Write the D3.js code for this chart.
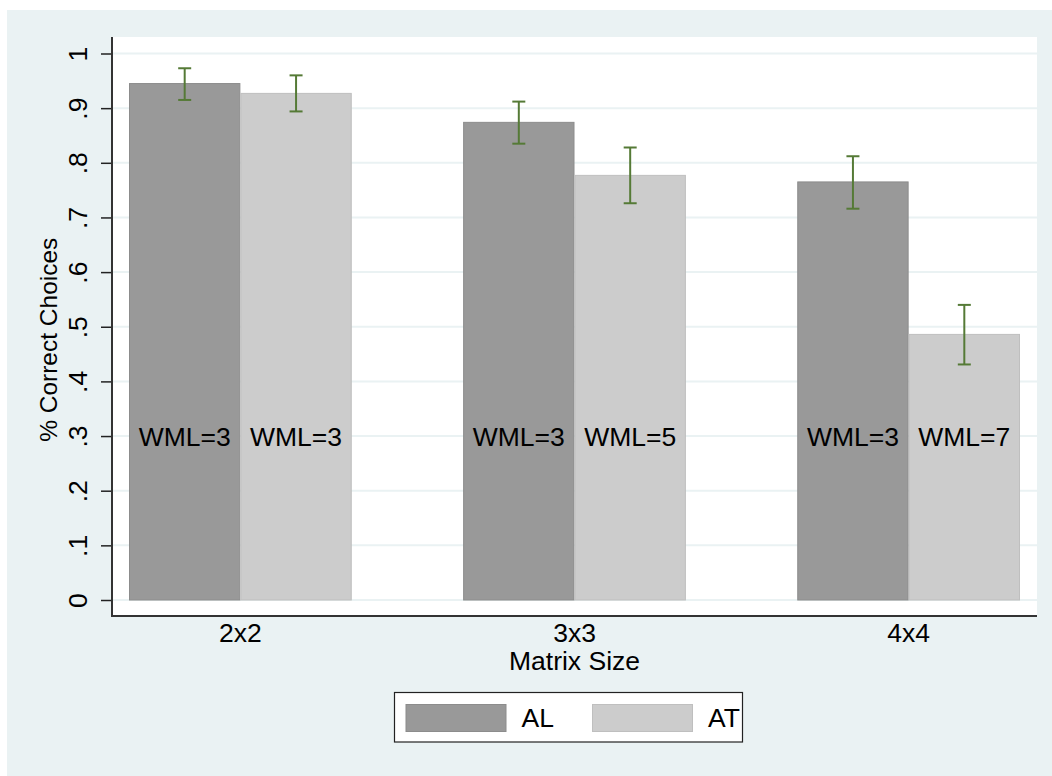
<!DOCTYPE html>
<html><head><meta charset="utf-8">
<script src="https://cdn.jsdelivr.net/npm/d3@7"></script>
<style>body{margin:0;background:#fff}svg{display:block}text{font-family:"Liberation Sans",Arial,Helvetica,sans-serif;fill:#000}</style>
</head><body>
<script>
const categories = ["2x2", "3x3", "4x4"];
const series = ["AL", "AT"];
const alValues = [0.945, 0.874, 0.765];
const atValues = [0.927, 0.777, 0.486];
const alLow = [0.915, 0.835, 0.716];
const alHigh = [0.973, 0.912, 0.812];
const atLow = [0.894, 0.726, 0.431];
const atHigh = [0.960, 0.828, 0.540];
const alLabels = ["WML=3", "WML=3", "WML=3"];
const atLabels = ["WML=3", "WML=5", "WML=7"];
const yTicks = [0, 0.1, 0.2, 0.3, 0.4, 0.5, 0.6, 0.7, 0.8, 0.9, 1];
const yTickLabels = ["0", ".1", ".2", ".3", ".4", ".5", ".6", ".7", ".8", ".9", "1"];

const W = 1052, H = 776;
const svg = d3.select("body").append("svg").attr("width", W).attr("height", H);
const colors = {AL: "#999999", AT: "#cccccc"};
const strokes = {AL: "#8c8c8c", AT: "#bfbfbf"};
const errColor = "#557a36";

// background
svg.append("rect").attr("x", 7).attr("y", 10).attr("width", W - 7).attr("height", H - 10).attr("fill", "#eaf2f3");
const plot = {left: 112, right: 1037, top: 37, bottom: 616};
svg.append("rect").attr("x", plot.left).attr("y", plot.top).attr("width", plot.right - plot.left).attr("height", plot.bottom - plot.top).attr("fill", "#fff");

const y = d3.scaleLinear().domain([0, 1]).range([600, 53.5]);
const x0 = d3.scaleBand().domain(categories).range([129, 1020]).paddingInner(1/3).paddingOuter(0);
const x1 = d3.scaleBand().domain(series).range([0, x0.bandwidth()]).padding(0);

// gridlines
svg.append("g").selectAll("line").data(yTicks).join("line")
  .attr("x1", plot.left).attr("x2", plot.right)
  .attr("y1", d => y(d)).attr("y2", d => y(d))
  .attr("stroke", "#eaf2f3").attr("stroke-width", 2);

const rows = categories.map((c, i) => ({
  c,
  items: [
    {s: "AL", v: alValues[i], lo: alLow[i], hi: alHigh[i], lab: alLabels[i]},
    {s: "AT", v: atValues[i], lo: atLow[i], hi: atHigh[i], lab: atLabels[i]}
  ]
}));

const g = svg.append("g").selectAll("g").data(rows).join("g")
  .attr("transform", d => `translate(${x0(d.c)},0)`);

g.selectAll("rect").data(d => d.items).join("rect")
  .attr("x", d => x1(d.s) + 0.5).attr("width", x1.bandwidth() - 1)
  .attr("y", d => y(d.v)).attr("height", d => y(0) - y(d.v))
  .attr("fill", d => colors[d.s]).attr("stroke", d => strokes[d.s]).attr("stroke-width", 1);

// labels
g.selectAll("text.wml").data(d => d.items).join("text").attr("class", "wml")
  .attr("x", d => x1(d.s) + x1.bandwidth() / 2).attr("y", y(0.3) + 10)
  .attr("text-anchor", "middle").attr("font-size", 26.5).text(d => d.lab);

// error bars
const eb = g.selectAll("g.eb").data(d => d.items).join("g").attr("class", "eb")
  .attr("stroke", errColor).attr("stroke-width", 2);
eb.append("line").attr("x1", d => x1(d.s) + x1.bandwidth() / 2).attr("x2", d => x1(d.s) + x1.bandwidth() / 2)
  .attr("y1", d => y(d.hi)).attr("y2", d => y(d.lo));
eb.append("line").attr("x1", d => x1(d.s) + x1.bandwidth() / 2 - 6.5).attr("x2", d => x1(d.s) + x1.bandwidth() / 2 + 6.5)
  .attr("y1", d => y(d.hi)).attr("y2", d => y(d.hi));
eb.append("line").attr("x1", d => x1(d.s) + x1.bandwidth() / 2 - 6.5).attr("x2", d => x1(d.s) + x1.bandwidth() / 2 + 6.5)
  .attr("y1", d => y(d.lo)).attr("y2", d => y(d.lo));

// y axis
const yAxis = d3.axisLeft(y).tickValues(yTicks).tickFormat((d, i) => yTickLabels[i]).tickSize(11).tickPadding(0);
const ya = svg.append("g").attr("transform", `translate(${plot.left},0)`).call(yAxis);
ya.select(".domain").remove();
ya.selectAll(".tick line").attr("stroke", "#222").attr("stroke-width", 1.5);
ya.selectAll(".tick text").attr("font-size", 26.5).attr("fill", "#000")
  .attr("text-anchor", "middle").attr("transform", "rotate(-90)")
  .attr("x", 0).attr("y", -25).attr("dy", 0);
svg.append("line").attr("x1", plot.left).attr("x2", plot.left).attr("y1", plot.top).attr("y2", plot.bottom + 1)
  .attr("stroke", "#333").attr("stroke-width", 2);

// x axis
const xAxis = d3.axisBottom(x0).tickSize(0).tickPadding(0);
const xa = svg.append("g").attr("transform", `translate(0,${plot.bottom})`).call(xAxis);
xa.select(".domain").remove();
xa.selectAll(".tick text").attr("font-size", 26.5).attr("fill", "#000").attr("y", 26).attr("dy", 0);
svg.append("line").attr("x1", plot.left - 1).attr("x2", plot.right).attr("y1", plot.bottom).attr("y2", plot.bottom)
  .attr("stroke", "#333").attr("stroke-width", 2);

// titles
svg.append("text").attr("transform", `translate(57,${(y(0) + y(1)) / 2 + 13}) rotate(-90)`)
  .attr("text-anchor", "middle").attr("font-size", 24.5).text("% Correct Choices");
svg.append("text").attr("x", (plot.left + plot.right) / 2).attr("y", 670)
  .attr("text-anchor", "middle").attr("font-size", 26.5).text("Matrix Size");

// legend
const leg = svg.append("g");
leg.append("rect").attr("x", 394.5).attr("y", 692.5).attr("width", 348).attr("height", 49.5)
  .attr("fill", "#fff").attr("stroke", "#222").attr("stroke-width", 1.2);
const legX = [405.5, 592];
series.forEach((s, i) => {
  leg.append("rect").attr("x", legX[i] + 0.5).attr("y", 704.5).attr("width", 100).attr("height", 27)
    .attr("fill", colors[s]).attr("stroke", strokes[s]);
  leg.append("text").attr("x", legX[i] + 116).attr("y", 727).attr("font-size", 26.5).text(s);
});
</script>
</body></html>
